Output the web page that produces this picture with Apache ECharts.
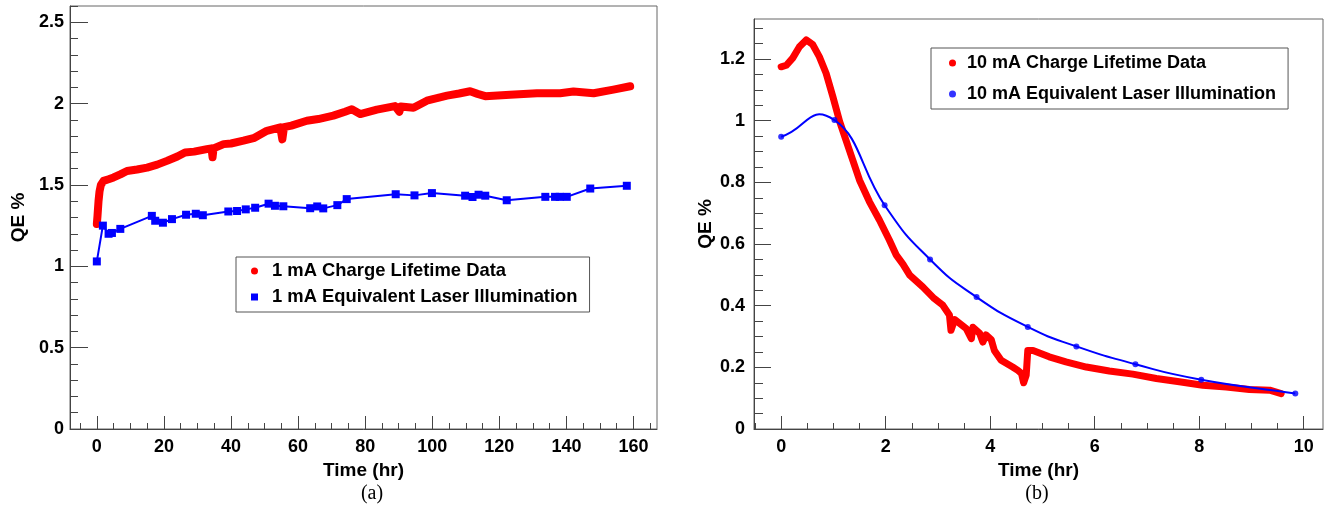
<!DOCTYPE html>
<html><head><meta charset="utf-8">
<script src="https://cdn.jsdelivr.net/npm/echarts@6/dist/echarts.min.js"></script>
<style>html,body{margin:0;padding:0;background:#fff}#c{width:1325px;height:513px}</style>
</head><body><div id="c"></div>
<script>
// ---------- DATA ----------
const leftNames = ['1 mA Charge Lifetime Data', '1 mA Equivalent Laser Illumination'];
const rightNames = ['10 mA Charge Lifetime Data', '10 mA Equivalent Laser Illumination'];

// (a) 1 mA charge lifetime data: [time hr, QE %]
const leftCharge = [
  [0, 1.26], [0.2, 1.31], [0.5, 1.40], [0.8, 1.46], [1.2, 1.50], [2, 1.525], [3.5, 1.535],
  [5, 1.546], [7, 1.565], [9, 1.586], [12, 1.595], [15, 1.607], [18, 1.625], [20.9, 1.648],
  [24, 1.675], [26.3, 1.70], [29, 1.705], [32.8, 1.72], [34.2, 1.725], [34.5, 1.67], [34.8, 1.725],
  [37.8, 1.751], [40, 1.755], [43.7, 1.772], [47, 1.79], [50.7, 1.833], [54.7, 1.854], [55.3, 1.78],
  [55.8, 1.855], [58, 1.865], [62.6, 1.895], [66, 1.905], [70.5, 1.926], [74, 1.95], [76, 1.965],
  [78.5, 1.936], [83.5, 1.963], [88.9, 1.985], [90.2, 1.95], [90.6, 1.982], [94.4, 1.974],
  [98.4, 2.018], [104.4, 2.049], [108, 2.062], [111.3, 2.076], [113.5, 2.06], [115.8, 2.046],
  [123.2, 2.054], [131.2, 2.064], [138.1, 2.064], [142.1, 2.074], [148.1, 2.064], [154, 2.086],
  [159, 2.107]
];
// (a) 1 mA equivalent laser illumination
const leftLaser = [
  [0, 1.03], [1.8, 1.25], [3.5, 1.20], [4.5, 1.205], [7, 1.23], [16.4, 1.31], [17.4, 1.28],
  [19.7, 1.268], [22.4, 1.29], [26.6, 1.317], [29.5, 1.323], [31.6, 1.314], [39.2, 1.337],
  [41.8, 1.34], [44.4, 1.35], [47.2, 1.36], [51.2, 1.385], [53.1, 1.372], [55.6, 1.369],
  [63.6, 1.357], [65.7, 1.368], [67.5, 1.356], [71.7, 1.376], [74.5, 1.413], [89.1, 1.443],
  [94.7, 1.436], [99.9, 1.45], [109.8, 1.434], [112, 1.426], [113.8, 1.44], [115.8, 1.434],
  [122.2, 1.406], [133.7, 1.427], [136.6, 1.427], [138, 1.427], [140.1, 1.427], [147.1, 1.478],
  [158, 1.495]
];
// (b) 10 mA charge lifetime data
const rightCharge = [
  [0, 1.175], [0.1, 1.18], [0.22, 1.203], [0.35, 1.24], [0.48, 1.262], [0.6, 1.248], [0.73, 1.208],
  [0.86, 1.154], [0.99, 1.078], [1.12, 0.997], [1.24, 0.937], [1.37, 0.872], [1.5, 0.807],
  [1.69, 0.737], [1.88, 0.678], [2.07, 0.613], [2.2, 0.565], [2.33, 0.535], [2.46, 0.499],
  [2.71, 0.461], [2.93, 0.423], [3.09, 0.402], [3.22, 0.37], [3.25, 0.32], [3.32, 0.355],
  [3.54, 0.326], [3.64, 0.293], [3.67, 0.33], [3.8, 0.31], [3.86, 0.282], [3.92, 0.305],
  [4.02, 0.29], [4.08, 0.255], [4.21, 0.223], [4.43, 0.201], [4.53, 0.19], [4.6, 0.18],
  [4.64, 0.15], [4.69, 0.175], [4.72, 0.255], [4.82, 0.255], [5.13, 0.234], [5.45, 0.218],
  [5.84, 0.201], [6.28, 0.188], [6.73, 0.178], [7.18, 0.164], [7.62, 0.153], [8.07, 0.142],
  [8.52, 0.136], [8.96, 0.128], [9.35, 0.126], [9.57, 0.115]
];
// (b) 10 mA equivalent laser illumination
const rightLaser = [
  [0, 0.948], [1.02, 1.002], [1.98, 0.726], [2.85, 0.55], [3.74, 0.428], [4.72, 0.331],
  [5.65, 0.268], [6.78, 0.21], [8.04, 0.16], [9.84, 0.115]
];

// tick labels
const leftXTicks = [0, 20, 40, 60, 80, 100, 120, 140, 160];
const leftYTicks = [0, 0.5, 1, 1.5, 2, 2.5];
const rightXTicks = [0, 2, 4, 6, 8, 10];
const rightYTicks = [0, 0.2, 0.4, 0.6, 0.8, 1, 1.2];

// ---------- helpers ----------
function steps(a, b, s) { const out = []; const n = Math.round((b - a) / s); for (let i = 0; i <= n; i++) out.push(+(a + i * s).toFixed(4)); return out; }
const leftXMinor = steps(-5, 165, 5);
const leftYMinor = steps(0, 2.6, 0.1);
const rightXMinor = steps(-0.5, 10, 0.5);
const rightYMinor = steps(0, 1.3, 0.05);

const FONT = "'Liberation Sans', Arial, Helvetica, sans-serif";
const AX = '#444';
const RED = '#ff0000';
const BLUE = '#0000ff';

function mainX(grid, min, max, ticks) {
  return {
    type: 'value', gridIndex: grid, position: 'bottom', min, max,
    name: 'Time (hr)', nameLocation: 'middle', nameGap: 29,
    nameTextStyle: { fontFamily: FONT, fontWeight: 'bold', fontSize: 19, color: '#000' },
    axisLine: { show: true, onZero: false, lineStyle: { color: AX, width: 1 } },
    axisTick: { show: true, inside: true, length: 13, customValues: ticks, lineStyle: { color: AX } },
    axisLabel: { show: true, customValues: ticks, margin: 9, fontFamily: FONT, fontWeight: 'bold', fontSize: 18, color: '#000' },
    splitLine: { show: false }
  };
}
function minorX(grid, min, max, ticks) {
  return {
    type: 'value', gridIndex: grid, position: 'bottom', min, max,
    axisLine: { show: false, onZero: false },
    axisTick: { show: true, inside: true, length: 6, customValues: ticks, lineStyle: { color: AX } },
    axisLabel: { show: false }, splitLine: { show: false }
  };
}
function mainY(grid, min, max, ticks, labelMargin, nameGap, tickLen) {
  return {
    type: 'value', gridIndex: grid, position: 'left', min, max,
    name: 'QE %', nameLocation: 'middle', nameGap: nameGap, nameRotate: 90,
    nameTextStyle: { fontFamily: FONT, fontWeight: 'bold', fontSize: 19, color: '#000' },
    axisLine: { show: true, onZero: false, lineStyle: { color: AX, width: 1 } },
    axisTick: { show: true, inside: true, length: tickLen, customValues: ticks, lineStyle: { color: AX } },
    axisLabel: { show: true, customValues: ticks, margin: labelMargin, fontFamily: FONT, fontWeight: 'bold', fontSize: 18, color: '#000' },
    splitLine: { show: false }
  };
}
function minorY(grid, min, max, ticks, tickLen) {
  return {
    type: 'value', gridIndex: grid, position: 'left', min, max,
    axisLine: { show: false, onZero: false },
    axisTick: { show: true, inside: true, length: tickLen, customValues: ticks, lineStyle: { color: AX } },
    axisLabel: { show: false }, splitLine: { show: false }
  };
}
function legendBox(names, icons, left, top, padding, gap, textPad, fs) {
  return {
    orient: 'vertical', left, top, padding, itemGap: gap,
    itemWidth: 7, itemHeight: 7, selectedMode: false,
    borderColor: '#555', borderWidth: 1, backgroundColor: '#fff',
    data: names.map((n, i) => ({ name: n, icon: icons[i] })),
    textStyle: { fontFamily: FONT, fontWeight: 'bold', fontSize: fs, color: '#000', padding: [0, 0, 0, textPad] }
  };
}

// smooth curve through the laser points (drawn through the axis scales)
function smoothCurve(points, api) {
  const p = points.map(d => api.coord(d));
  const n = p.length;
  const tan = p.map((pt, i) => {
    const a = p[Math.max(0, i - 1)], b = p[Math.min(n - 1, i + 1)];
    const f = (i === 0 || i === n - 1) ? 1 : 0.5;
    return [(b[0] - a[0]) * f, (b[1] - a[1]) * f];
  });
  const k = 0.5;
  let d = 'M' + p[0][0] + ' ' + p[0][1];
  for (let i = 0; i < n - 1; i++) {
    const c1 = [p[i][0] + tan[i][0] * k, p[i][1] + tan[i][1] * k];
    const c2 = [p[i + 1][0] - tan[i + 1][0] * k, p[i + 1][1] - tan[i + 1][1] * k];
    d += ' C' + c1[0] + ' ' + c1[1] + ' ' + c2[0] + ' ' + c2[1] + ' ' + p[i + 1][0] + ' ' + p[i + 1][1];
  }
  return d;
}

const chart = echarts.init(document.getElementById('c'), null, { renderer: 'canvas' });
chart.setOption({
  animation: false,
  backgroundColor: '#fff',
  grid: [
    { left: 70, top: 6, width: 587, height: 423, show: true, borderColor: '#666', borderWidth: 1, backgroundColor: 'transparent', containLabel: false, outerBoundsMode: 'none' },
    { left: 754, top: 19, width: 569, height: 410, show: true, borderColor: '#666', borderWidth: 1, backgroundColor: 'transparent', containLabel: false, outerBoundsMode: 'none' }
  ],
  xAxis: [
    mainX(0, -8, 167, leftXTicks),
    minorX(0, -8, 167, leftXMinor),
    mainX(1, -0.52, 10.37, rightXTicks),
    minorX(1, -0.52, 10.37, rightXMinor)
  ],
  yAxis: [
    mainY(0, 0, 2.6, leftYTicks, 6, 42, 18),
    minorY(0, 0, 2.6, leftYMinor, 8),
    mainY(1, 0, 1.33, rightYTicks, 9, 39, 17),
    minorY(1, 0, 1.33, rightYMinor, 9)
  ],
  legend: [
    legendBox(leftNames, ['circle', 'rect'], 236, 257, [5, 12, 6, 15], 8, 9, 18.4),
    legendBox(rightNames, ['circle', 'circle'], 931, 48, [6, 12, 6, 18], 13, 6, 18)
  ],
  series: [
    { name: leftNames[0], type: 'line', xAxisIndex: 0, yAxisIndex: 0, data: leftCharge, symbol: 'none', showSymbol: false,
      lineStyle: { color: RED, width: 8, cap: 'round', join: 'round' }, itemStyle: { color: RED }, z: 2 },
    { name: leftNames[1], type: 'line', xAxisIndex: 0, yAxisIndex: 0, data: leftLaser, symbol: 'rect', symbolSize: 8, showSymbol: true,
      lineStyle: { color: BLUE, width: 2 }, itemStyle: { color: BLUE }, z: 3 },
    { name: rightNames[0], type: 'line', xAxisIndex: 2, yAxisIndex: 2, data: rightCharge, symbol: 'none', showSymbol: false,
      lineStyle: { color: RED, width: 7, cap: 'round', join: 'round' }, itemStyle: { color: RED }, z: 2 },
    { name: 'laserCurve10', type: 'custom', xAxisIndex: 2, yAxisIndex: 2, data: rightLaser, silent: true, z: 3,
      renderItem: function (params, api) {
        if (params.dataIndex !== 0) return null;
        return { type: 'path', shape: { pathData: smoothCurve(rightLaser, api) },
                 style: { stroke: BLUE, lineWidth: 2, fill: 'none' } };
      } },
    { name: rightNames[1], type: 'scatter', xAxisIndex: 2, yAxisIndex: 2, data: rightLaser, symbol: 'circle', symbolSize: 6,
      itemStyle: { color: BLUE }, z: 4 }
  ],
  graphic: [
    { type: 'text', x: 372, y: 494, style: { text: '(a)', fontSize: 20, fontFamily: "'Liberation Serif', 'Times New Roman', serif", fill: '#000', align: 'center', verticalAlign: 'middle' } },
    { type: 'text', x: 1037, y: 494, style: { text: '(b)', fontSize: 20, fontFamily: "'Liberation Serif', 'Times New Roman', serif", fill: '#000', align: 'center', verticalAlign: 'middle' } }
  ]
});
</script>
</body></html>
